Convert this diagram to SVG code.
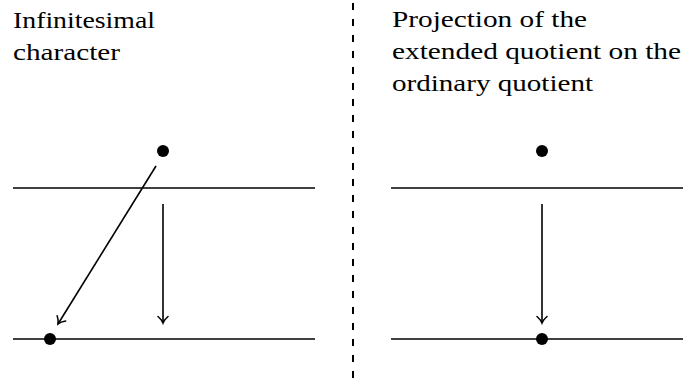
<svg xmlns="http://www.w3.org/2000/svg" width="683" height="381" viewBox="0 0 683 381">
<style>
.t{font-family:"Liberation Serif","DejaVu Serif",serif;font-size:24px;fill:#000}
.l{stroke:#000;stroke-width:1.6;fill:none}
.a{stroke:#000;stroke-width:1.6;fill:none;marker-end:url(#ah)}
</style>
<defs>
<marker id="ah" markerUnits="userSpaceOnUse" viewBox="-8 -6 10 12" markerWidth="10" markerHeight="12" refX="0" refY="0" orient="auto">
<path d="M-6.5,-5 Q-3,-1 0,0 Q-3,1 -6.5,5" stroke="#000" stroke-width="1.5" fill="none" stroke-linecap="round"/>
</marker>
</defs>
<g id="divider"><line x1="353" y1="3" x2="353" y2="381" stroke="#000" stroke-width="2" stroke-dasharray="7,9"/></g>
<g id="left-title"><text class="t" x="13" y="28" textLength="142" lengthAdjust="spacingAndGlyphs">Infinitesimal</text><text class="t" x="13" y="60" textLength="107" lengthAdjust="spacingAndGlyphs">character</text></g>
<g id="right-title"><text class="t" x="392" y="27" textLength="195" lengthAdjust="spacingAndGlyphs">Projection of the</text><text class="t" x="392" y="59" textLength="289" lengthAdjust="spacingAndGlyphs">extended quotient on the</text><text class="t" x="392" y="91" textLength="201" lengthAdjust="spacingAndGlyphs">ordinary quotient</text></g>
<g id="left-top-line"><line class="l" x1="13" y1="188" x2="315" y2="188"/></g>
<g id="left-bottom-line"><line class="l" x1="13" y1="339" x2="315" y2="339"/></g>
<g id="right-top-line"><line class="l" x1="391" y1="188" x2="683" y2="188"/></g>
<g id="right-bottom-line"><line class="l" x1="391" y1="339" x2="683" y2="339"/></g>
<g id="left-top-dot"><circle cx="163" cy="151" r="6"/></g>
<g id="left-bottom-dot"><circle cx="50" cy="339" r="6"/></g>
<g id="right-top-dot"><circle cx="542" cy="151" r="6"/></g>
<g id="right-bottom-dot"><circle cx="542" cy="339" r="6"/></g>
<g id="connectors">
<line class="a" x1="156" y1="166" x2="58" y2="324"/>
<line class="a" x1="163" y1="204" x2="163" y2="323"/>
<line class="a" x1="542" y1="204" x2="542" y2="323"/>
</g>
</svg>
